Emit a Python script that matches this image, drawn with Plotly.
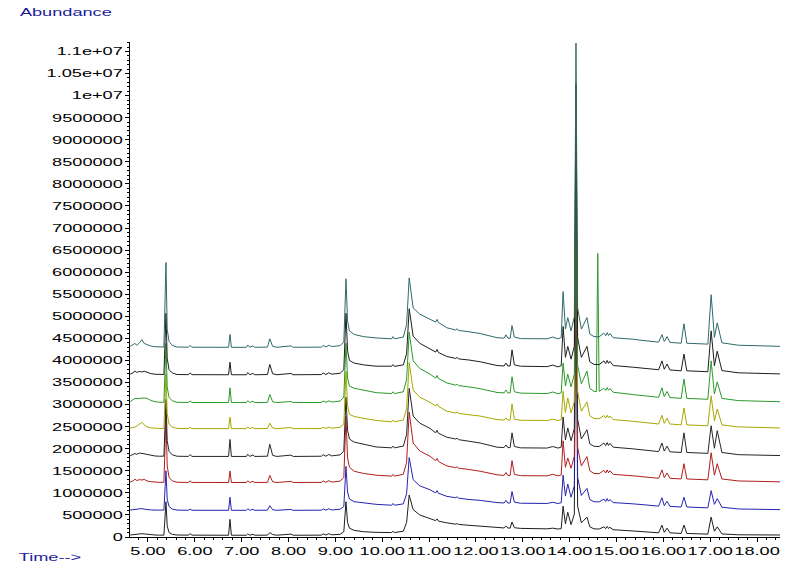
import plotly.graph_objects as go

# --------------------------------------------------------------
# Overlay of 8 GC-MS total ion chromatograms (stacked with offsets)
# --------------------------------------------------------------

# retention time grid (min) shared by all runs
TIME = [
    4.62, 4.68, 4.72, 4.76, 4.82, 4.87, 4.92, 4.98, 5.05, 5.15, 5.25, 5.34,
    5.384, 5.41, 5.45, 5.52, 5.62, 5.86, 5.90, 5.94, 6.72, 6.75, 6.78,
    7.10, 7.13, 7.17, 7.24, 7.28, 7.55, 7.60, 7.66, 7.75, 8.05, 8.10, 8.70, 8.74, 8.80, 8.86, 8.92,
    9.10, 9.18, 9.226, 9.26, 9.30, 9.40, 9.60, 9.87, 10.20, 10.23, 10.26,
    10.45, 10.52, 10.575, 10.66, 10.80, 11.02, 11.14, 11.17, 11.20, 11.38, 11.57, 11.60, 11.63,
    11.85, 12.09, 12.45, 12.60, 12.64, 12.68, 12.73, 12.77, 12.82, 12.95,
    13.52, 13.64, 13.75, 13.82, 13.86, 13.91, 13.96, 14.03, 14.10, 14.135, 14.17, 14.25,
    14.37, 14.43, 14.52, 14.57, 14.60, 14.63, 14.73, 14.77, 14.80, 14.83, 14.86, 14.93,
    15.37, 15.50, 15.90, 15.97, 16.02, 16.08, 16.14, 16.38, 16.44, 16.50, 16.95, 17.02,
    17.09, 17.15, 17.25, 17.60, 18.49,
]

# abundance above each run's offset, in thousands of counts (bottom run first)
RUN_1 = [
    45, 55, 60, 65, 70, 75, 70, 60, 50, 45, 42, 42,
    800, 250, 100, 60, 45, 42, 75, 42, 40, 400, 40,
    40, 70, 42, 60, 40, 42, 100, 55, 40, 65, 40, 42, 70, 45, 75, 50,
    60, 120, 800, 330, 200, 150, 120, 105, 100, 130, 100,
    130, 330, 950, 620, 500, 420, 370, 410, 360, 320, 290, 305, 285,
    265, 245, 215, 205, 250, 205, 200, 340, 210, 195,
    185, 200, 180, 190, 700, 300, 560, 280, 520, 7500, 700, 320,
    450, 230, 185, 180, 180, 180, 230, 190, 240, 195, 220, 165,
    135, 125, 95, 270, 105, 200, 95, 80, 270, 80, 65, 450,
    130, 230, 70, 50, 45,
]
RUN_2 = [
    10, 20, 25, 20, 35, 45, 30, 20, 15, 10, 8, 10,
    900, 260, 90, 30, 10, 6, 30, 6, 5, 300, 5,
    5, 40, 6, 25, 5, 8, 110, 18, 5, 25, 5, 8, 35, 8, 40, 12,
    30, 90, 1000, 420, 260, 200, 170, 140, 120, 160, 120,
    150, 380, 1200, 700, 560, 470, 400, 450, 390, 320, 290, 310, 280,
    250, 230, 180, 170, 230, 170, 170, 430, 190, 165,
    160, 185, 160, 175, 800, 330, 600, 300, 560, 7400, 750, 340,
    500, 250, 200, 195, 195, 195, 260, 205, 270, 210, 250, 180,
    150, 135, 100, 290, 110, 210, 95, 80, 300, 80, 60, 450,
    140, 270, 75, 35, 20,
]
RUN_3 = [
    15, 40, 80, 50, 70, 60, 75, 40, 25, 12, 8, 10,
    1500, 380, 120, 40, 10, 6, 40, 6, 5, 265, 5,
    5, 45, 6, 30, 5, 8, 165, 22, 5, 30, 5, 8, 40, 10, 45, 15,
    35, 120, 1500, 560, 350, 260, 210, 170, 150, 190, 150,
    190, 460, 1600, 900, 720, 600, 500, 550, 480, 380, 340, 360, 330,
    300, 260, 180, 165, 230, 165, 165, 500, 190, 160,
    155, 190, 155, 175, 950, 350, 560, 330, 600, 7500, 800, 380,
    590, 270, 210, 205, 205, 205, 280, 220, 290, 225, 270, 190,
    155, 140, 100, 290, 115, 220, 100, 85, 430, 85, 65, 680,
    170, 430, 85, 40, 20,
]
RUN_4 = [
    20, 40, 70, 55, 80, 75, 65, 45, 30, 15, 10, 12,
    1300, 360, 120, 40, 10, 6, 45, 6, 5, 390, 5,
    5, 55, 6, 40, 5, 10, 280, 30, 5, 35, 5, 10, 45, 10, 50, 18,
    40, 130, 1350, 600, 400, 330, 280, 220, 200, 240, 200,
    240, 500, 1550, 920, 760, 640, 540, 600, 530, 440, 400, 420, 385,
    350, 310, 215, 205, 265, 205, 205, 540, 230, 200,
    195, 230, 195, 215, 900, 380, 650, 360, 640, 7300, 850, 400,
    610, 290, 235, 230, 230, 230, 310, 250, 320, 255, 300, 215,
    175, 160, 115, 310, 125, 240, 110, 95, 540, 95, 75, 700,
    190, 590, 95, 45, 25,
]
RUN_5 = [
    15, 25, 40, 60, 110, 150, 90, 45, 25, 12, 8, 10,
    1250, 340, 110, 40, 10, 6, 35, 6, 5, 265, 5,
    5, 45, 6, 30, 5, 8, 130, 20, 5, 30, 5, 8, 35, 10, 40, 15,
    35, 110, 1300, 520, 330, 280, 240, 190, 160, 200, 160,
    200, 450, 1500, 880, 720, 600, 520, 560, 510, 400, 360, 385, 350,
    320, 290, 210, 200, 250, 200, 200, 565, 220, 195,
    190, 220, 190, 205, 850, 370, 700, 360, 620, 7100, 850, 400,
    610, 300, 235, 230, 230, 230, 300, 245, 310, 250, 290, 210,
    170, 155, 110, 310, 125, 240, 110, 90, 475, 90, 70, 750,
    180, 450, 90, 45, 20,
]
RUN_6 = [
    25, 60, 100, 95, 110, 105, 110, 100, 60, 25, 12, 12,
    1350, 360, 120, 45, 12, 8, 40, 8, 6, 340, 6,
    6, 50, 8, 35, 6, 10, 190, 25, 6, 30, 6, 8, 40, 10, 45, 18,
    40, 130, 1350, 560, 380, 330, 280, 230, 210, 250, 210,
    250, 520, 1600, 950, 780, 650, 560, 620, 550, 450, 400, 420, 390,
    360, 320, 235, 225, 290, 225, 225, 590, 250, 220,
    210, 245, 205, 225, 900, 380, 650, 360, 650, 6800, 850, 430,
    720, 330, 260, 255, 3385, 260, 330, 280, 345, 285, 320, 240,
    185, 170, 125, 340, 140, 260, 120, 100, 540, 100, 80, 950,
    200, 475, 100, 50, 25,
]
RUN_7 = [
    20, 50, 90, 60, 80, 70, 85, 55, 35, 18, 10, 12,
    1400, 380, 120, 45, 12, 8, 45, 8, 6, 290, 6,
    6, 55, 8, 35, 6, 10, 240, 30, 6, 35, 6, 10, 45, 12, 50, 20,
    40, 120, 1400, 550, 330, 270, 230, 200, 200, 235, 195,
    230, 480, 1500, 880, 720, 600, 520, 580, 510, 420, 375, 400, 365,
    340, 300, 215, 205, 270, 205, 205, 570, 230, 200,
    190, 225, 185, 210, 1100, 400, 650, 360, 650, 6600, 850, 400,
    650, 300, 240, 235, 235, 235, 320, 260, 330, 265, 310, 215,
    175, 160, 120, 320, 130, 250, 115, 95, 475, 95, 75, 1000,
    210, 540, 100, 50, 25,
]
RUN_8 = [
    30, 60, 95, 55, 110, 180, 95, 70, 40, 20, 12, 15,
    1930, 420, 140, 50, 15, 10, 50, 10, 8, 300, 8,
    8, 60, 10, 40, 8, 12, 200, 30, 8, 40, 8, 12, 50, 15, 55, 25,
    45, 130, 1560, 600, 380, 300, 250, 220, 200, 250, 200,
    240, 520, 1580, 900, 760, 650, 580, 640, 570, 450, 400, 430, 390,
    360, 320, 225, 215, 290, 215, 210, 500, 240, 205,
    200, 240, 200, 230, 1270, 420, 680, 380, 700, 6900, 900, 420,
    680, 310, 250, 245, 245, 245, 330, 270, 340, 275, 320, 225,
    190, 170, 125, 295, 140, 250, 120, 100, 540, 100, 80, 1200,
    230, 560, 110, 55, 30,
]

# vertical offset of each run in the overlay (thousands of counts)
RUN_OFFSETS_K = [0, 600, 1230, 1820, 2450, 3040, 3670, 4290]

Y_TICK_LABELS = [
    "0", "500000", "1000000", "1500000", "2000000", "2500000", "3000000",
    "3500000", "4000000", "4500000", "5000000", "5500000", "6000000",
    "6500000", "7000000", "7500000", "8000000", "8500000", "9000000",
    "9500000", "1e+07", "1.05e+07", "1.1e+07",
]
X_TICK_LABELS = [
    "5.00", "6.00", "7.00", "8.00", "9.00", "10.00", "11.00",
    "12.00", "13.00", "14.00", "15.00", "16.00", "17.00", "18.00",
]

RUNS = [RUN_1, RUN_2, RUN_3, RUN_4, RUN_5, RUN_6, RUN_7, RUN_8]
COLORS = ["#1e1e1e", "#2424b0", "#b01e1e", "#262626",
          "#a8a800", "#2a9a2a", "#1e1e1e", "#2f6a6a"]

for run in RUNS:
    assert len(run) == len(TIME)

fig = go.Figure()
for run, off, color in zip(RUNS, RUN_OFFSETS_K, COLORS):
    fig.add_trace(go.Scatter(
        x=TIME,
        y=[(off + v) * 1000 for v in run],
        mode="lines",
        line=dict(color=color, width=1),
        hoverinfo="skip",
        showlegend=False,
    ))

tick_font = dict(family="Liberation Sans, Arial, sans-serif", size=11, color="#000000")
label_font = dict(family="Liberation Sans, Arial, sans-serif", size=11, color="#1c1c9a")

fig.update_layout(
    width=800,
    height=570,
    margin=dict(l=130, r=20, t=42, b=33),
    paper_bgcolor="white",
    plot_bgcolor="white",
    xaxis=dict(
        range=[4.616, 18.49],
        tickvals=[float(s) for s in X_TICK_LABELS],
        ticktext=X_TICK_LABELS,
        tickfont=tick_font,
        showline=True, linecolor="#000000", linewidth=1,
        ticks="outside", ticklen=4, tickcolor="#000000",
        minor=dict(tick0=5, dtick=0.2, ticks="outside", ticklen=2, tickcolor="#000000"),
        showgrid=False, zeroline=False,
    ),
    yaxis=dict(
        range=[0, 11.215e6],
        tickvals=[float(s) for s in Y_TICK_LABELS],
        ticktext=Y_TICK_LABELS,
        tickfont=tick_font,
        showline=True, linecolor="#000000", linewidth=1,
        ticks="outside", ticklen=4, tickcolor="#000000",
        minor=dict(tick0=0, dtick=100000, ticks="outside", ticklen=2, tickcolor="#000000"),
        showgrid=False, zeroline=False,
    ),
    annotations=[
        dict(text="Abundance", xref="paper", yref="paper", x=-0.0985, y=1.0606,
             xanchor="center", yanchor="middle", showarrow=False, font=label_font),
        dict(text="Time-->", xref="paper", yref="paper", x=-0.123, y=-0.0404,
             xanchor="center", yanchor="middle", showarrow=False, font=label_font),
    ],
)

# ChemStation prints its labels in a horizontally stretched face
STRETCH_JS = """
document.body.style.margin = '0';
var gd = document.getElementById('{plot_id}');
gd.querySelectorAll('text').forEach(function (t) {
    var w = t.getComputedTextLength();
    if (w > 0) {
        t.setAttribute('textLength', (w * 1.65).toFixed(1));
        t.setAttribute('lengthAdjust', 'spacingAndGlyphs');
    }
});
"""

fig.write_html("out.html", post_script=STRETCH_JS,
               config={"displayModeBar": False, "staticPlot": True})
